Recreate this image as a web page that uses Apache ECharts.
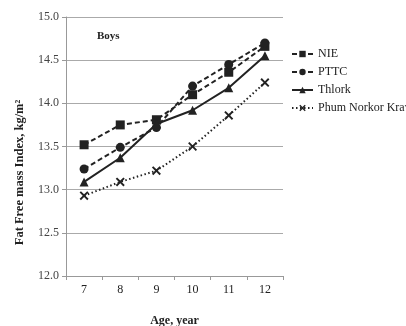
<!DOCTYPE html>
<html><head><meta charset="utf-8">
<script src="https://cdn.jsdelivr.net/npm/echarts@6/dist/echarts.min.js"></script>
<style>html,body{margin:0;padding:0;background:#fff}#c{width:406px;height:326px}</style>
</head><body><div id="c"></div>
<script>
const categories = ['7','8','9','10','11','12'];
const nie = [13.52, 13.75, 13.81, 14.10, 14.36, 14.66];
const pttc = [13.24, 13.49, 13.72, 14.20, 14.45, 14.70];
const thlork = [13.09, 13.37, 13.76, 13.92, 14.18, 14.55];
const phum = [12.93, 13.09, 13.22, 13.50, 13.86, 14.24];
const seriesNames = ['NIE', 'PTTC', 'Thlork', 'Phum Norkor Krav'];

const xPath = 'path://M0,1.5L1.5,0L5,3.5L8.5,0L10,1.5L6.5,5L10,8.5L8.5,10L5,6.5L1.5,10L0,8.5L3.5,5Z';
const font = 'Liberation Serif';
const ink = '#222';
function mk(name, data, symbol, size, type) {
  return {
    name, type: 'line', data, symbol, symbolSize: size,
    lineStyle: { color: ink, width: 2, type },
    itemStyle: { color: ink },
    emphasis: { disabled: true }, animation: false
  };
}
const chart = echarts.init(document.getElementById('c'));
chart.setOption({
  animation: false,
  textStyle: { fontFamily: font },
  title: { text: 'Boys', left: 92, top: 26, textStyle: { fontFamily: font, fontSize: 11, fontWeight: 'bold', color: ink } },
  grid: { left: 66, right: 123, top: 17, bottom: 50, outerBoundsMode: 'none' },
  legend: {
    orient: 'vertical', left: 291, top: 48, padding: 0, itemGap: 6, itemWidth: 21, itemHeight: 8,
    textStyle: { fontFamily: font, fontSize: 12, color: ink },
    data: seriesNames
  },
  xAxis: {
    type: 'category', data: categories, boundaryGap: true,
    name: 'Age, year', nameLocation: 'middle', nameGap: 39,
    nameTextStyle: { fontFamily: font, fontSize: 12, fontWeight: 'bold', color: ink },
    axisLine: { lineStyle: { color: '#999' } },
    axisTick: { show: true, lineStyle: { color: '#999' }, length: 4 },
    axisLabel: { fontFamily: font, fontSize: 12, color: ink, margin: 8 }
  },
  yAxis: {
    type: 'value', min: 12, max: 15, interval: 0.5,
    name: 'Fat Free mass Index, kg/m²', nameLocation: 'middle', nameGap: 40,
    nameTextStyle: { fontFamily: font, fontSize: 12.5, fontWeight: 'bold', color: ink, padding: [0, 52, 0, 0] },
    axisLine: { show: true, lineStyle: { color: '#999' } },
    axisTick: { show: true, lineStyle: { color: '#999' }, length: 4 },
    axisLabel: { fontFamily: font, fontSize: 12, color: '#444', margin: 7, formatter: v => v.toFixed(1) },
    splitLine: { lineStyle: { color: '#aaa', width: 1 } }
  },
  series: [
    mk('NIE', nie, 'rect', 9, [5, 3]),
    mk('PTTC', pttc, 'circle', 9, [5, 3]),
    mk('Thlork', thlork, 'triangle', 9, 'solid'),
    mk('Phum Norkor Krav', phum, xPath, 9, [1.5, 2.5])
  ]
});
</script></body></html>
